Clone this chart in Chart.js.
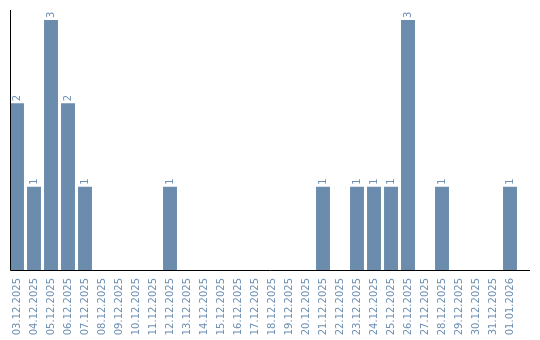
<!DOCTYPE html>
<html>
<head>
<meta charset="utf-8">
<script src="https://cdn.jsdelivr.net/npm/chart.js@4"></script>
<style>
  html, body { margin: 0; padding: 0; background: #fff; }
  #wrap { width: 540px; height: 340px; position: relative; }
</style>
</head>
<body>
<div id="wrap"><canvas id="barChart"></canvas></div>
<script>
const days = ['03.12.2025', '04.12.2025', '05.12.2025', '06.12.2025', '07.12.2025', '08.12.2025',
  '09.12.2025', '10.12.2025', '11.12.2025', '12.12.2025', '13.12.2025', '14.12.2025', '15.12.2025',
  '16.12.2025', '17.12.2025', '18.12.2025', '19.12.2025', '20.12.2025', '21.12.2025', '22.12.2025',
  '23.12.2025', '24.12.2025', '25.12.2025', '26.12.2025', '27.12.2025', '28.12.2025', '29.12.2025',
  '30.12.2025', '31.12.2025', '01.01.2026'];
const counts = [2, 1, 3, 2, 1, 0, 0, 0, 0, 1, 0, 0, 0, 0, 0, 0, 0, 0, 1, 0, 1, 1, 1, 3, 0, 1, 0, 0, 0, 1];

const barColor = '#6b8cad';
const textColor = '#6d8fb2';

// axis lines + value labels drawn by hand
const extras = {
  id: 'extras',
  afterDatasetsDraw(chart) {
    const c = chart.ctx;
    const area = chart.chartArea;
    const x = chart.scales.x, y = chart.scales.y;
    c.save();
    c.strokeStyle = '#000';
    c.lineWidth = 1;
    c.beginPath();
    c.moveTo(10.5, 10);
    c.lineTo(10.5, area.bottom + 0.5);
    c.lineTo(530, area.bottom + 0.5);
    c.stroke();

    c.fillStyle = textColor;
    c.font = '10px "DejaVu Sans"';
    c.textAlign = 'left';
    c.textBaseline = 'middle';
    counts.forEach((v, i) => {
      if (!v) return;
      const px = x.getPixelForValue(i);
      const py = y.getPixelForValue(v);
      c.save();
      c.translate(px, py - 2);
      c.rotate(-Math.PI / 2);
      c.fillText(String(v), 0, 0);
      c.restore();
    });
    c.restore();
  }
};

const ctx = document.getElementById('barChart').getContext('2d');
const barChart = new Chart(ctx, {
  type: 'bar',
  data: {
    labels: days,
    datasets: [{
      data: counts,
      backgroundColor: barColor,
      barPercentage: 0.82,
      categoryPercentage: 1
    }]
  },
  options: {
    responsive: true,
    maintainAspectRatio: false,
    animation: false,
    layout: { padding: { left: 8.5, right: 21.5, top: 20, bottom: 0 } },
    plugins: {
      legend: { display: false },
      tooltip: { enabled: false }
    },
    scales: {
      x: {
        grid: { display: false },
        border: { display: false },
        afterFit: function(scale) { scale.height = 70; },
        ticks: {
          color: textColor,
          font: { family: 'DejaVu Sans', size: 10 },
          minRotation: 90,
          maxRotation: 90,
          autoSkip: false,
          padding: 0
        }
      },
      y: {
        display: false,
        min: 0,
        max: 3
      }
    }
  },
  plugins: [extras]
});
</script>
</body>
</html>
